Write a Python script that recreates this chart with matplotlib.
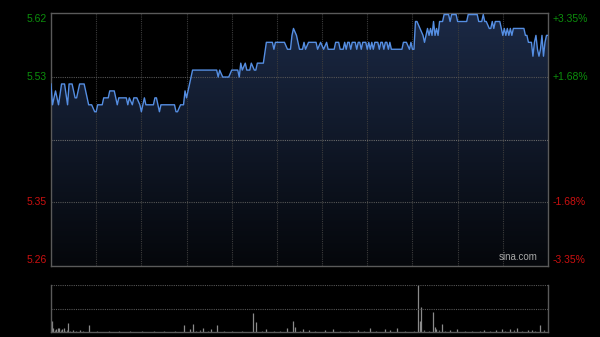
import matplotlib
matplotlib.use("Agg")
import matplotlib.pyplot as plt
import numpy as np

plt.rcParams['font.family'] = ['Liberation Sans', 'DejaVu Sans']

# prix de clôture précédent et bornes affichées
prev_close = 5.44
pct_range = 0.0335

# minutes (0 = 9:30, 330 = 16:00) et prix relevés
minutes = [0, 1, 3, 5, 7, 9, 11, 12, 14, 16, 17, 19, 22, 23, 25, 27, 29, 30, 31, 34,
           35, 38, 39, 42, 44, 45, 50, 51, 52, 54, 55, 57, 59, 60, 62, 63, 68, 69, 70, 72,
           73, 82, 83, 84, 86, 88, 89, 90, 92, 94, 110, 111, 112, 114, 118, 120, 124, 125, 126, 127,
           129, 130, 132, 133, 135, 136, 137, 141, 143, 147, 148, 149, 155, 157, 159, 160, 161, 163, 165, 167,
           168, 169, 171, 176, 177, 179, 181, 183, 184, 188, 189, 191, 192, 194, 195, 196, 197, 198, 199, 200,
           202, 203, 204, 205, 206, 207, 209, 210, 211, 212, 213, 214, 215, 217, 218, 219, 220, 221, 222, 223,
           224, 225, 226, 233, 234, 236, 238, 239, 240, 241, 242, 243, 245, 247, 248, 250, 251, 252, 253, 254,
           255, 256, 257, 258, 260, 261, 264, 265, 266, 269, 270, 276, 277, 283, 284, 285, 286, 287, 288, 289,
           291, 292, 293, 294, 295, 298, 299, 300, 301, 302, 303, 304, 305, 306, 307, 314, 315, 316, 317, 318,
           319, 320, 321, 322, 323, 324, 325, 326, 327, 328, 329, 330]
prices = [5.52, 5.49, 5.51, 5.49, 5.52, 5.52, 5.49, 5.52, 5.52, 5.50, 5.50, 5.52, 5.52, 5.51, 5.49, 5.49, 5.48, 5.48, 5.49, 5.49,
          5.50, 5.50, 5.51, 5.51, 5.49, 5.50, 5.50, 5.49, 5.50, 5.49, 5.50, 5.50, 5.49, 5.48, 5.50, 5.49, 5.49, 5.50, 5.50, 5.48,
          5.49, 5.49, 5.48, 5.48, 5.49, 5.49, 5.51, 5.50, 5.52, 5.54, 5.54, 5.53, 5.54, 5.53, 5.53, 5.54, 5.54, 5.53, 5.55, 5.54,
          5.55, 5.54, 5.54, 5.55, 5.54, 5.54, 5.55, 5.55, 5.58, 5.58, 5.57, 5.58, 5.58, 5.57, 5.57, 5.59, 5.60, 5.59, 5.57, 5.57,
          5.58, 5.57, 5.58, 5.58, 5.57, 5.58, 5.57, 5.58, 5.57, 5.57, 5.58, 5.58, 5.57, 5.57, 5.58, 5.57, 5.58, 5.58, 5.57, 5.58,
          5.58, 5.57, 5.58, 5.58, 5.57, 5.58, 5.58, 5.57, 5.58, 5.57, 5.58, 5.57, 5.58, 5.58, 5.57, 5.58, 5.58, 5.57, 5.58, 5.58,
          5.57, 5.58, 5.57, 5.57, 5.58, 5.58, 5.57, 5.58, 5.57, 5.57, 5.61, 5.61, 5.60, 5.59, 5.58, 5.60, 5.59, 5.60, 5.59, 5.61,
          5.59, 5.60, 5.59, 5.61, 5.61, 5.62, 5.62, 5.61, 5.62, 5.62, 5.61, 5.61, 5.62, 5.62, 5.61, 5.61, 5.61, 5.62, 5.61, 5.61,
          5.60, 5.60, 5.61, 5.60, 5.61, 5.61, 5.60, 5.59, 5.60, 5.59, 5.60, 5.59, 5.60, 5.59, 5.60, 5.60, 5.59, 5.59, 5.58, 5.58,
          5.58, 5.56, 5.58, 5.59, 5.57, 5.56, 5.57, 5.59, 5.56, 5.58, 5.59, 5.59]

# volumes visibles (en % du max)
vol_minutes = [0, 1, 3, 4, 5, 7, 8, 11, 14, 19, 25, 88, 92, 94, 101, 106, 110, 134, 136, 143,
               157, 161, 162, 167, 171, 182, 187, 204, 212, 222, 225, 230, 244, 245, 246, 254, 255, 256, 260, 265,
               270, 288, 296, 300, 305, 310, 317, 320, 325]
vol_values = [23, 8, 6, 8, 9, 7, 8, 19, 5, 4, 15, 15, 7, 17, 8, 6, 14, 40, 22, 6,
              8, 23, 10, 6, 5, 5, 7, 4, 9, 7, 5, 9, 100, 23, 53, 42, 11, 7, 17, 5,
              6, 5, 5, 6, 6, 8, 5, 4, 15]
# petits volumes de fond
small_minutes = [2, 6, 9, 10, 12, 16, 21, 30, 38, 45, 52, 60, 68, 75, 82, 96, 99, 104, 115, 120,
                 127, 140, 148, 152, 165, 175, 192, 198, 208, 216, 235, 241, 248, 251, 258, 262, 275, 280, 285, 292,
                 302, 308, 313, 322, 328]
small_values = [4, 5, 3, 4, 3, 3, 2, 3, 2, 3, 2, 3, 2, 2, 3, 3, 4, 3, 2, 3,
                3, 2, 3, 2, 3, 2, 3, 2, 3, 3, 2, 3, 4, 3, 4, 3, 2, 3, 3, 2,
                3, 4, 3, 3, 4]

left_labels = ["5.62", "5.53", "5.35", "5.26"]
right_labels = ["+3.35%", "+1.68%", "-1.68%", "-3.35%"]

green = "#0c8f0c"
red = "#cc1010"
border = "#5a5a5a"
grid_c = "#3c3c3c"

fig = plt.figure(figsize=(6, 3.37), dpi=100, facecolor="black")
ax = fig.add_axes([51 / 600, 1 - 266 / 337, 497 / 600, 253 / 337])
axv = fig.add_axes([51 / 600, 1 - 332 / 337, 497 / 600, 47 / 337])

lo = prev_close * (1 - pct_range)
hi = prev_close * (1 + pct_range)

# --- graphique des prix ---
ax.set_facecolor("black")
ax.set_xlim(0, 330)
ax.set_ylim(lo, hi)

x = np.array(minutes)
y = np.array(prices)
poly = ax.fill_between(x, y, lo, color="none", lw=0)
grad = np.linspace(0, 1, 256).reshape(-1, 1)
cmap = matplotlib.colors.LinearSegmentedColormap.from_list("bg", ["#05070b", "#1b2945"])
img = ax.imshow(grad, cmap=cmap, aspect="auto", extent=[0, 330, lo, max(prices)],
                origin="lower", zorder=1)
img.set_clip_path(poly.get_paths()[0], transform=ax.transData)
ax.plot(x, y, color="#558ee2", lw=1.0, zorder=3)

# grille
for m in range(30, 330, 30):
    ax.axvline(m, color=grid_c, lw=0.8, ls=(0, (1, 1)), zorder=2)
for p in [5.53, 5.35]:
    ax.axhline(p, color="#555555", lw=0.8, ls=(0, (1, 1)), zorder=2)
ax.axhline(prev_close, color="#6a6a6a", lw=0.8, ls=(0, (1, 1)), zorder=2)

for s in ax.spines.values():
    s.set_color(border)
    s.set_linewidth(1)
ax.set_xticks([])
ax.set_yticks([])

# étiquettes
label_pos = [hi, 5.53, 5.35, lo]
label_va = ["top", "center", "center", "bottom"]
label_col = [green, green, red, red]
for i in range(4):
    yy = label_pos[i]
    off = 0
    if i == 0:
        off = -0.5
    if i == 3:
        off = 0.5
    ax.annotate(left_labels[i], xy=(0, yy), xycoords=("axes fraction", "data"),
                xytext=(-3, off), textcoords="offset points", ha="right", va=label_va[i],
                color=label_col[i], fontsize=7.5)
    ax.annotate(right_labels[i], xy=(1, yy), xycoords=("axes fraction", "data"),
                xytext=(3, off), textcoords="offset points", ha="left", va=label_va[i],
                color=label_col[i], fontsize=7.5)

ax.text(0.98, 0.015, "sina.com", transform=ax.transAxes, ha="right", va="bottom",
        color="#a8a8a8", fontsize=7, zorder=4)

# --- volumes ---
axv.set_facecolor("black")
axv.set_xlim(-0.5, 330.5)
axv.set_ylim(0, 100)
axv.vlines(small_minutes, 0, small_values, color="#6a6a6a", lw=0.9)
axv.vlines(vol_minutes, 0, vol_values, color="#8a8a8a", lw=0.9)
axv.axhline(50, color="#555555", lw=0.8, ls=(0, (1, 1)))
axv.axhline(100, color="#555555", lw=0.8, ls=(0, (1, 1)))
for k in ["left", "right", "bottom"]:
    axv.spines[k].set_color(border)
    axv.spines[k].set_linewidth(1)
axv.spines["top"].set_visible(False)
axv.set_xticks([])
axv.set_yticks([])

fig.savefig("out.png", dpi=100, facecolor="black")
